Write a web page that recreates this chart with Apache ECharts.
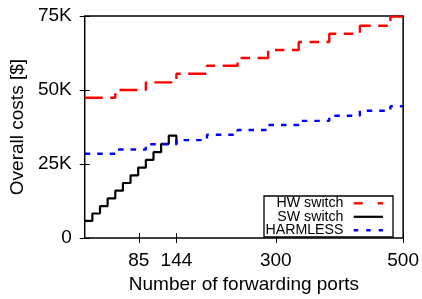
<!DOCTYPE html>
<html>
<head>
<meta charset="utf-8">
<script src="https://cdn.jsdelivr.net/npm/echarts@6/dist/echarts.min.js"></script>
<style>html,body{margin:0;padding:0;background:#fff;}#c{width:422px;height:299px;}</style>
</head>
<body>
<div id="c"></div>
<script>
// ---- data ----
const hwPorts = [0, 48, 96, 144, 192, 240, 288, 336, 384, 432, 480, 500];
const hwCost = [47400, 50000, 52600, 55500, 58200, 60800, 63500, 66200, 69000, 71700, 74800, 74800];
const harmlessPorts = [0, 48, 96, 144, 192, 240, 288, 336, 384, 432, 480, 500];
const harmlessCost = [28500, 29900, 31700, 33100, 34900, 36500, 38200, 39600, 41300, 43000, 44500, 44500];
const swPorts = [0, 12, 24, 36, 48, 60, 72, 84, 96, 108, 120, 132, 144];
const swCost = [5800, 8300, 10800, 13400, 16000, 18600, 21200, 23800, 26400, 29000, 31800, 34600, 31800];
const xTicks = [85, 144, 300, 500];
const yTicks = [0, 25000, 50000, 75000];
const yTickLabels = ['0', '25K', '50K', '75K'];
const seriesNames = ['HW switch', 'SW switch', 'HARMLESS'];

const zip = (a, b) => a.map((v, i) => [v, b[i]]);
const FONT = 'Liberation Sans, Arial, Helvetica, sans-serif';

const chart = echarts.init(document.getElementById('c'), null, {renderer: 'canvas'});

const gl = {left: 84, right: 17, top: 16, bottom: 59};
const legX = 264, legY = 196, legW = 129, legH = 41;
const textRight = 343.5;
const rows = [203.3, 216.8, 230.2];

const option = {
  animation: false,
  backgroundColor: '#fff',
  grid: {left: gl.left, right: gl.right, top: gl.top, bottom: gl.bottom, show: true,
         borderColor: '#000', borderWidth: 1.5, backgroundColor: 'transparent'},
  xAxis: [
    {type: 'value', min: 0, max: 500, position: 'bottom',
     axisLine: {show: false},
     axisTick: {show: true, inside: true, length: 5, customValues: xTicks, lineStyle: {color: '#000', width: 1}},
     axisLabel: {customValues: xTicks, margin: 13, fontSize: 19, color: '#000', fontFamily: FONT},
     splitLine: {show: false},
     name: 'Number of forwarding ports', nameLocation: 'middle', nameGap: 33,
     nameTextStyle: {fontSize: 19, color: '#000', fontFamily: FONT}},
    {type: 'value', min: 0, max: 500, position: 'top',
     axisLine: {show: false},
     axisTick: {show: true, inside: true, length: 5, customValues: xTicks, lineStyle: {color: '#000', width: 1}},
     axisLabel: {show: false}, splitLine: {show: false}}
  ],
  yAxis: [
    {type: 'value', min: 0, max: 75000, interval: 25000, position: 'left',
     axisLine: {show: false},
     axisTick: {show: true, inside: true, length: 5, lineStyle: {color: '#000', width: 1}},
     axisLabel: {margin: 13, fontSize: 19, color: '#000', fontFamily: FONT, padding: [3, 0, 0, 0],
                 formatter: v => yTickLabels[yTicks.indexOf(v)]},
     splitLine: {show: false},
     name: 'Overall costs [$]', nameLocation: 'middle', nameGap: 47,
     nameTextStyle: {fontSize: 19, color: '#000', fontFamily: FONT}},
    {type: 'value', min: 0, max: 75000, interval: 25000, position: 'right',
     axisLine: {show: false},
     axisTick: {show: true, inside: true, length: 5, lineStyle: {color: '#000', width: 1}},
     axisLabel: {show: false}, splitLine: {show: false}}
  ],
  series: [
    {name: seriesNames[0], type: 'line', step: 'end', showSymbol: false, xAxisIndex: 0, yAxisIndex: 0,
     data: zip(hwPorts, hwCost),
     lineStyle: {color: '#ff0000', width: 2.4, type: [18, 7.5, 9.5, 7.5], cap: 'butt'}},
    {name: seriesNames[1], type: 'line', step: 'end', showSymbol: false, xAxisIndex: 0, yAxisIndex: 0,
     data: zip(swPorts, swCost),
     lineStyle: {color: '#000000', width: 2.2, type: 'solid'}},
    {name: seriesNames[2], type: 'line', step: 'end', showSymbol: false, xAxisIndex: 0, yAxisIndex: 0,
     data: zip(harmlessPorts, harmlessCost),
     lineStyle: {color: '#0000ff', width: 2.4, type: [5.5, 7], cap: 'butt'}}
  ],
  graphic: [
    {type: 'rect', shape: {x: legX, y: legY, width: legW, height: legH}, z: 100,
     style: {fill: '#fff', stroke: '#000', lineWidth: 1.3}},
    ...seriesNames.map((n, i) => ({type: 'text', z: 101, x: textRight, y: rows[i],
      style: {text: n, fontSize: 14.2, fontFamily: FONT, fill: '#000', align: 'right', verticalAlign: 'middle'}})),
    {type: 'line', z: 101, shape: {x1: 353.7, y1: rows[0], x2: 362.7, y2: rows[0]}, style: {stroke: '#ff0000', lineWidth: 2.4}},
    {type: 'line', z: 101, shape: {x1: 377.7, y1: rows[0], x2: 383, y2: rows[0]}, style: {stroke: '#ff0000', lineWidth: 2.4}},
    {type: 'line', z: 101, shape: {x1: 353.7, y1: rows[1], x2: 383, y2: rows[1]}, style: {stroke: '#000', lineWidth: 2.2}},
    {type: 'line', z: 101, shape: {x1: 353.7, y1: rows[2], x2: 383, y2: rows[2]}, style: {stroke: '#0000ff', lineWidth: 2.4, lineDash: [4.5, 8]}}
  ]
};
chart.setOption(option);
</script>
</body>
</html>
